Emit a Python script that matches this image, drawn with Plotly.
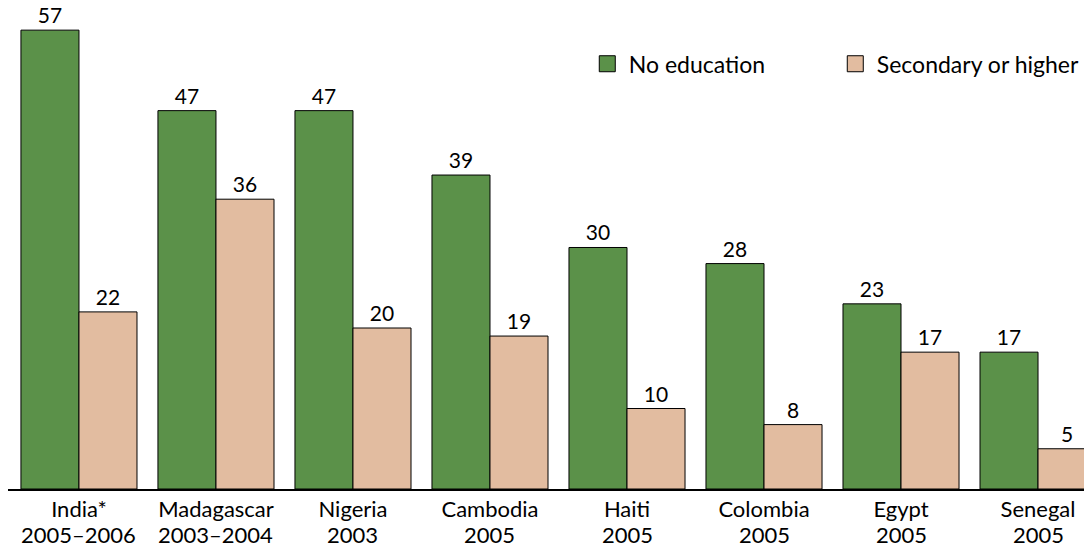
import plotly.graph_objects as go

countries = ["India*", "Madagascar", "Nigeria", "Cambodia", "Haiti",
             "Colombia", "Egypt", "Senegal"]
years = ["2005–2006", "2003–2004", "2003", "2005", "2005", "2005", "2005", "2005"]
no_education = [57, 47, 47, 39, 30, 28, 23, 17]
secondary = [22, 36, 20, 19, 10, 8, 17, 5]

GREEN = "#5b9149"
PEACH = "#e2bca0"
FONT = "Lato"

fig = go.Figure()

for name, vals, color in [("No education", no_education, GREEN),
                          ("Secondary or higher", secondary, PEACH)]:
    fig.add_trace(go.Bar(
        x=countries, y=vals, name=name,
        marker=dict(color=color, line=dict(color="black", width=1)),
        text=vals, textposition="outside", cliponaxis=False,
        textfont=dict(color="black", size=21, family=FONT),
        showlegend=False,
    ))

# legend entries with larger square swatches
for name, color in [("No education", GREEN), ("Secondary or higher", PEACH)]:
    fig.add_trace(go.Scatter(
        x=[None], y=[None], mode="markers", name=name,
        marker=dict(symbol="square", size=20, color=color,
                    line=dict(color="black", width=1)),
    ))

# second line of the category labels (survey years)
for c, yr in zip(countries, years):
    fig.add_annotation(x=c, y=0, yref="y", text=yr, showarrow=False,
                       yanchor="top", yshift=-30,
                       font=dict(size=22, family=FONT, color="black"))

# page body has an 8px margin, so the figure is sized to fit the window
fig.update_layout(
    width=1084, height=537,
    margin=dict(l=0, r=0, t=0, b=56),
    barmode="group", bargap=0.153, bargroupgap=0,
    plot_bgcolor="white", paper_bgcolor="white",
    font=dict(family=FONT, size=22, color="black"),
    legend=dict(orientation="h", x=0.533, y=0.884, xanchor="left", yanchor="middle",
                entrywidth=200, entrywidthmode="pixels", itemwidth=33,
                font=dict(size=23, family=FONT), bgcolor="rgba(0,0,0,0)"),
)

fig.update_xaxes(range=[-0.518, 7.394], showline=True, linecolor="black", linewidth=2,
                 ticks="", automargin=False, ticklabelstandoff=0,
                 tickfont=dict(size=22, family=FONT))
fig.update_yaxes(range=[0, 59.75], visible=False, automargin=False)

fig.write_html("out.html")
